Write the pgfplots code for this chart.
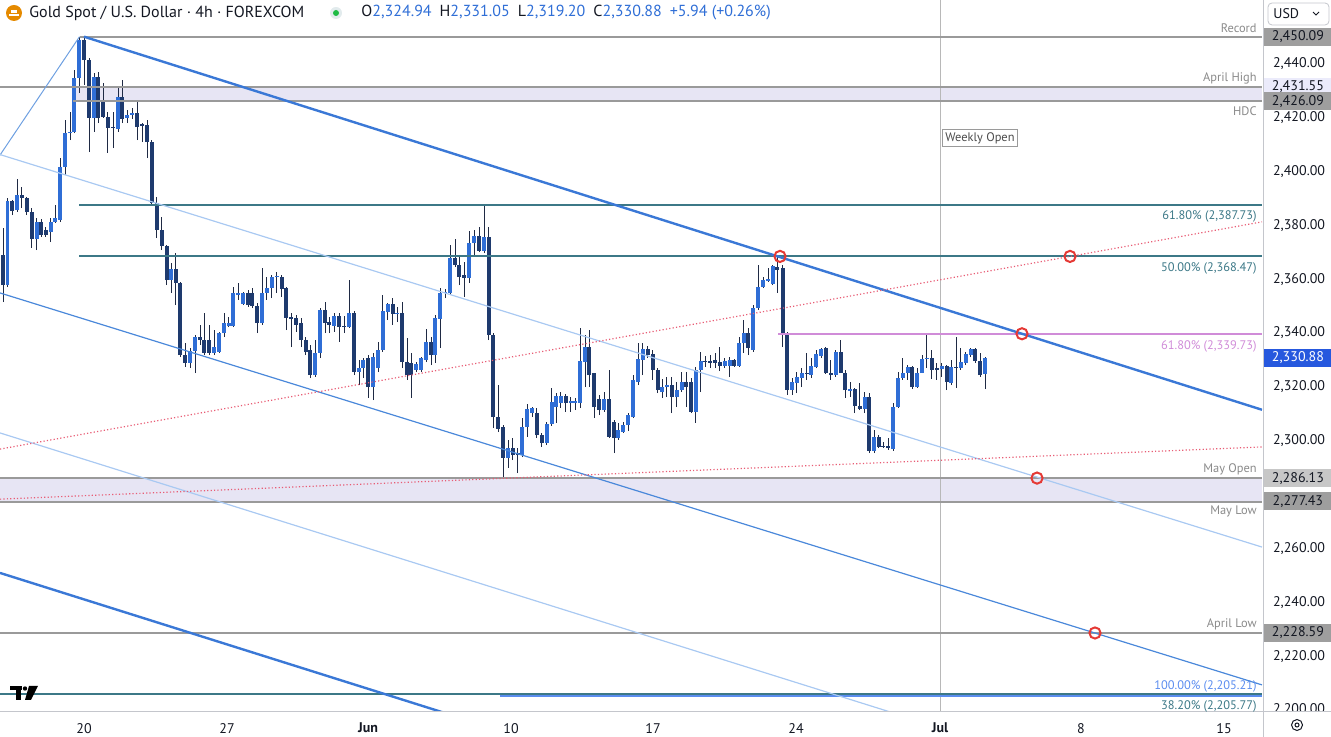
\documentclass[border=0pt]{standalone}
\usepackage{pgfplots}
\pgfplotsset{compat=1.18}
\usepackage{pgfplotstable}
\usepackage{fontspec}
\setmainfont{PT Sans}

\definecolor{upc}{HTML}{2F6ED6}
\definecolor{dnc}{HTML}{1E3A6E}
\definecolor{wick}{HTML}{1F2A44}
\definecolor{chan}{HTML}{3A78D6}
\definecolor{chanthin}{HTML}{4A88DA}
\definecolor{chanlight}{HTML}{A9C9F2}
\definecolor{teal}{HTML}{3C7887}
\definecolor{pinkfib}{HTML}{D08CD8}
\definecolor{lvl}{HTML}{9A9A9A}
\definecolor{lav}{HTML}{E7E5F4}
\definecolor{reddot}{HTML}{E85D75}
\definecolor{redc}{HTML}{E53935}
\definecolor{bluefib}{HTML}{5B8DEF}
\definecolor{tvtext}{HTML}{131722}
\definecolor{lbl}{HTML}{8A8A8A}
\definecolor{sep}{HTML}{C4C6CC}

% x: pixel column of the bar, o h l c: prices
\pgfplotstableread{
x o h l c
7.5 2357.8 2390.2 2357.1 2389.0
17.3 2385.7 2397.2 2385.0 2391.3
36.7 2374.9 2382.7 2370.8 2381.2
50.7 2377.5 2382.7 2373.8 2381.2
55.3 2381.2 2387.6 2380.9 2382.7
60.3 2382.0 2405.0 2381.2 2401.7
65.3 2401.7 2419.1 2398.7 2414.3
70.3 2414.3 2422.1 2411.7 2414.7
74.3 2414.7 2437.7 2414.3 2434.7
79.3 2434.7 2450.09 2429.2 2449.0
94.0 2419.9 2436.6 2414.7 2435.1
118.0 2415.8 2431.4 2414.7 2427.7
127.3 2419.9 2422.9 2418.0 2421.0
132.3 2421.0 2423.6 2419.5 2421.7
171.0 2359.7 2366.0 2354.9 2363.8
190.0 2328.9 2334.4 2327.0 2333.3
195.0 2333.3 2339.3 2325.1 2338.5
214.3 2332.6 2341.1 2331.8 2334.8
219.3 2333.0 2340.4 2332.6 2340.0
224.0 2340.0 2347.4 2338.5 2343.7
228.7 2342.6 2346.0 2342.2 2343.7
233.3 2342.6 2357.1 2342.2 2354.9
238.3 2354.1 2358.6 2352.3 2354.9
243.3 2350.8 2355.3 2350.4 2354.9
262.3 2343.7 2364.2 2343.0 2354.9
266.7 2354.9 2360.8 2352.3 2356.7
271.7 2356.7 2361.6 2353.0 2360.8
276.7 2360.8 2362.7 2354.9 2361.2
315.0 2324.4 2337.4 2323.7 2332.6
320.0 2332.6 2349.3 2330.7 2348.6
334.3 2342.6 2347.4 2340.4 2346.3
349.3 2342.2 2359.7 2341.9 2347.4
359.0 2325.5 2330.0 2320.7 2327.0
363.3 2327.0 2330.7 2323.3 2330.0
373.3 2319.9 2332.6 2315.1 2331.1
378.3 2327.0 2336.7 2325.5 2333.7
382.7 2333.7 2354.1 2333.0 2348.2
387.7 2347.8 2351.2 2344.8 2350.8
397.3 2347.1 2349.7 2344.1 2347.4
416.3 2326.3 2329.2 2325.5 2328.5
421.3 2326.3 2331.1 2325.5 2330.7
426.3 2330.0 2341.5 2329.2 2336.7
435.3 2331.8 2346.7 2328.9 2345.6
440.3 2345.2 2356.7 2334.4 2354.9
445.3 2354.9 2356.4 2353.0 2355.3
450.0 2354.9 2372.7 2354.1 2367.9
469.3 2360.4 2377.9 2358.6 2373.5
474.3 2373.5 2378.3 2369.0 2376.0
484.3 2370.5 2387.6 2369.7 2375.7
508.3 2293.6 2300.3 2289.9 2297.3
522.3 2294.7 2308.4 2293.9 2305.1
527.3 2305.1 2313.6 2301.4 2311.8
532.3 2310.3 2312.5 2308.8 2312.1
546.7 2299.1 2306.9 2298.4 2306.2
551.7 2306.2 2319.6 2305.5 2314.4
556.0 2312.5 2317.7 2306.6 2316.6
560.7 2314.0 2318.1 2312.1 2316.6
570.7 2314.0 2316.2 2310.7 2314.7
575.3 2314.0 2315.9 2311.4 2314.7
580.0 2314.0 2341.9 2312.1 2329.6
585.0 2329.2 2339.3 2319.9 2334.8
604.3 2311.4 2318.1 2310.7 2315.5
618.3 2301.0 2306.6 2300.3 2304.0
623.3 2303.2 2306.9 2302.9 2305.8
628.3 2305.8 2310.3 2303.6 2309.5
633.3 2308.8 2324.4 2308.4 2322.6
638.3 2321.8 2336.3 2320.7 2330.4
642.7 2330.0 2336.3 2324.4 2334.1
662.3 2318.1 2322.9 2315.9 2319.9
666.7 2319.9 2323.7 2316.2 2320.7
676.7 2316.2 2321.8 2312.5 2318.8
681.7 2318.8 2325.5 2318.1 2321.8
695.7 2310.7 2327.4 2306.6 2326.3
700.7 2326.3 2333.0 2318.1 2329.6
724.7 2327.8 2330.7 2327.0 2329.6
729.7 2327.8 2331.1 2323.7 2330.0
739.3 2327.8 2338.5 2327.4 2336.3
743.7 2336.3 2344.8 2332.6 2340.0
753.3 2333.7 2350.4 2333.0 2349.3
758.3 2349.3 2365.3 2348.6 2357.1
763.3 2357.1 2360.8 2356.7 2359.7
768.3 2359.3 2364.2 2359.0 2360.1
772.7 2358.2 2365.3 2357.8 2364.9
792.3 2318.8 2323.3 2317.0 2321.8
796.7 2321.4 2325.5 2317.7 2323.7
801.7 2323.3 2327.0 2319.9 2325.1
811.3 2324.4 2330.7 2323.3 2327.8
816.3 2327.4 2333.7 2327.0 2332.2
821.3 2331.5 2334.4 2330.7 2334.1
835.7 2324.4 2333.7 2323.7 2333.0
850.0 2318.5 2321.8 2316.2 2319.2
864.7 2311.8 2318.1 2310.3 2316.2
874.0 2296.2 2304.0 2295.4 2301.4
893.3 2296.9 2314.0 2296.2 2312.5
898.3 2312.5 2325.5 2312.1 2323.3
902.7 2323.3 2330.7 2322.6 2325.1
907.7 2325.1 2328.1 2322.6 2327.4
917.3 2319.9 2327.0 2319.6 2325.1
922.3 2325.1 2331.8 2325.1 2330.4
926.7 2330.4 2340.0 2327.0 2330.7
941.7 2326.6 2328.9 2323.7 2327.8
951.0 2321.4 2330.0 2320.7 2327.4
960.7 2327.0 2334.4 2326.3 2329.2
965.7 2328.9 2333.0 2328.1 2332.2
970.7 2331.8 2334.4 2331.1 2334.1
985.0 2324.94 2331.05 2319.20 2330.88
}\candUp

\pgfplotstableread{
x o h l c
3.0 2369.0 2379.0 2351.5 2357.8
12.3 2389.0 2389.4 2383.8 2385.3
21.7 2391.3 2394.3 2386.4 2390.2
26.7 2390.2 2390.5 2383.8 2385.0
31.7 2385.0 2386.4 2371.6 2374.9
41.3 2381.2 2382.4 2375.7 2376.4
45.7 2378.3 2379.4 2375.7 2376.4
84.0 2449.0 2449.9 2432.1 2441.4
89.0 2441.4 2442.2 2407.2 2419.9
98.3 2435.1 2437.0 2418.0 2419.9
103.3 2425.8 2432.9 2419.9 2420.3
107.7 2420.3 2422.1 2406.9 2416.2
113.3 2416.7 2422.1 2408.7 2416.3
122.3 2427.7 2434.0 2418.0 2419.5
137.3 2421.7 2426.6 2411.7 2416.5
142.3 2417.7 2418.0 2410.9 2416.9
147.3 2417.3 2419.1 2405.0 2410.9
151.7 2410.9 2411.7 2387.6 2388.3
156.7 2388.3 2390.5 2375.3 2378.3
161.7 2378.3 2383.1 2370.8 2372.3
166.7 2372.3 2372.7 2357.8 2359.7
175.7 2363.8 2369.7 2350.4 2358.6
180.3 2358.6 2359.0 2331.1 2331.8
185.3 2331.8 2336.3 2327.4 2328.9
200.0 2338.5 2343.0 2335.6 2337.4
204.3 2337.4 2347.4 2331.8 2332.6
209.3 2337.4 2343.0 2331.8 2332.6
248.0 2354.9 2356.0 2349.7 2350.4
252.3 2354.9 2356.7 2349.3 2350.0
257.3 2350.0 2351.2 2340.0 2343.7
281.7 2360.8 2361.6 2353.4 2356.4
286.0 2356.7 2357.1 2341.1 2345.6
291.0 2346.0 2347.4 2334.8 2345.2
296.0 2345.6 2346.7 2340.4 2343.0
301.0 2343.7 2345.6 2334.8 2337.4
305.7 2337.4 2338.5 2331.8 2333.0
310.0 2333.7 2335.6 2323.3 2324.4
325.0 2348.6 2351.5 2340.0 2343.7
329.3 2344.1 2346.0 2340.0 2343.0
339.3 2346.3 2347.4 2336.7 2342.2
344.0 2342.6 2346.3 2340.0 2342.2
354.3 2347.4 2348.2 2324.4 2325.5
368.3 2330.7 2331.8 2315.9 2319.9
392.7 2350.8 2353.0 2343.0 2347.1
402.3 2347.4 2351.5 2327.0 2329.2
407.3 2329.2 2338.2 2322.6 2324.4
411.3 2328.9 2332.6 2315.9 2324.4
431.3 2336.7 2338.5 2328.1 2331.8
455.0 2367.9 2374.9 2364.5 2365.3
459.3 2365.3 2368.3 2357.8 2360.8
464.0 2361.6 2366.4 2353.4 2360.4
479.3 2376.0 2379.4 2370.1 2370.5
488.7 2375.7 2379.4 2337.4 2339.3
493.3 2339.3 2340.0 2304.7 2308.8
498.3 2308.8 2320.7 2303.2 2304.4
503.3 2305.1 2305.8 2286.5 2293.6
512.7 2297.3 2301.0 2292.8 2294.7
517.7 2295.4 2297.3 2288.0 2294.7
536.7 2310.3 2312.1 2301.0 2302.1
541.7 2302.1 2302.9 2297.7 2299.1
565.7 2316.6 2317.3 2310.7 2314.0
589.3 2334.8 2341.1 2319.9 2324.4
594.3 2325.1 2325.1 2308.4 2312.5
599.3 2315.5 2317.0 2309.5 2311.4
609.3 2315.5 2326.3 2301.0 2301.4
614.0 2306.9 2307.7 2295.4 2301.0
647.7 2334.1 2335.2 2330.7 2331.8
652.7 2332.2 2333.7 2322.6 2326.3
657.7 2326.3 2327.0 2317.7 2318.8
671.7 2320.7 2323.7 2310.3 2316.2
686.0 2321.8 2325.5 2312.5 2319.9
691.3 2321.8 2323.3 2310.3 2310.7
705.3 2329.6 2331.5 2327.4 2329.2
710.3 2329.6 2331.8 2327.0 2328.9
715.0 2330.0 2332.6 2327.0 2328.9
719.7 2329.2 2334.8 2325.9 2327.8
734.0 2330.0 2330.4 2327.4 2327.8
748.3 2340.0 2341.9 2331.8 2334.4
777.3 2364.5 2368.2 2354.9 2363.4
782.7 2364.2 2365.3 2334.8 2340.0
787.3 2340.0 2340.4 2317.0 2318.8
806.7 2325.1 2332.6 2322.6 2324.8
825.7 2334.4 2334.8 2324.8 2325.1
830.7 2325.1 2330.0 2322.6 2324.4
840.7 2333.0 2337.4 2325.1 2325.1
845.3 2325.1 2326.3 2315.9 2318.8
854.7 2319.2 2319.6 2310.3 2312.9
859.7 2312.9 2321.4 2311.4 2311.8
869.3 2316.2 2317.7 2295.4 2296.2
878.7 2301.4 2302.1 2297.3 2297.7
883.3 2298.0 2299.5 2297.3 2297.7
888.3 2298.0 2301.0 2296.6 2297.3
912.3 2327.4 2327.8 2319.2 2319.9
931.7 2330.7 2333.7 2322.9 2326.3
936.7 2327.0 2328.9 2322.6 2326.3
946.7 2327.8 2328.1 2318.8 2321.8
956.0 2327.4 2338.5 2319.6 2327.0
975.3 2334.1 2334.4 2328.9 2329.6
980.0 2329.6 2332.6 2323.7 2324.4
}\candDn

\pgfplotsset{
  wicks/.style={forget plot, color=wick, line width=0.5pt,
    quiver={u=0, v=\thisrow{h}-\thisrow{l}}},
  bodies/.style={forget plot, color=#1, line width=1.9pt,
    quiver={u=0, v={max(abs(\thisrow{c}-\thisrow{o}),0.4)}}},
}

\begin{document}
\begin{tikzpicture}
\begin{axis}[
  scale only axis, width=631pt, height=356pt,
  xmin=0, xmax=1262, ymin=2199.24, ymax=2463.72,
  axis line style={draw=none},
  major tick length=0pt,
  xtick={84,227,368,511,653,796,940,1081,1224},
  xticklabels={20,27,\textbf{Jun},10,17,24,\textbf{Jul},8,15},
  xticklabel style={font=\fontsize{7}{8}\selectfont, text=tvtext, yshift=-2pt},
  ytick={2200,2220,2240,2260,2300,2320,2340,2360,2380,2400,2420,2440},
  yticklabel pos=right,
  yticklabel style={font=\fontsize{7}{8}\selectfont, text=tvtext, anchor=west, xshift=2pt,
    /pgf/number format/.cd, fixed, fixed zerofill, precision=2, 1000 sep={,}, assume math mode=true},
]
% zones
\addplot[fill=lav, draw=none] coordinates {(73,2426.09) (1262,2426.09) (1262,2431.55) (73,2431.55)};
\addplot[fill=lav, draw=none] coordinates {(0,2277.43) (1262,2277.43) (1262,2286.13) (0,2286.13)};
% weekly open
\addplot[color=lvl!70, line width=0.5pt] coordinates {(940,2199.24) (940,2463.72)};

% candles: wick from low to high, body from min(open,close)
\addplot[wicks] table[x=x, y=l] {\candUp};
\addplot[wicks] table[x=x, y=l] {\candDn};
\addplot[bodies=upc] table[x=x, y expr={min(\thisrow{o},\thisrow{c})}] {\candUp};
\addplot[bodies=dnc] table[x=x, y expr={min(\thisrow{o},\thisrow{c})}] {\candDn};

% horizontal levels
\addplot[color=lvl, line width=1pt] coordinates {(80,2450.09) (1262,2450.09)};
\addplot[color=lvl, line width=1pt] coordinates {(0,2431.55) (1262,2431.55)};
\addplot[color=lvl, line width=1pt] coordinates {(73,2426.09) (1262,2426.09)};
\addplot[color=lvl, line width=1pt] coordinates {(0,2286.13) (1262,2286.13)};
\addplot[color=lvl, line width=1pt] coordinates {(0,2277.43) (1262,2277.43)};
\addplot[color=lvl, line width=1pt] coordinates {(0,2228.59) (1262,2228.59)};
\addplot[color=teal, line width=1pt] coordinates {(79,2387.73) (1262,2387.73)};
\addplot[color=teal, line width=1pt] coordinates {(79,2368.47) (1262,2368.47)};
\addplot[color=pinkfib, line width=1pt] coordinates {(778,2339.73) (1262,2339.73)};
\addplot[color=bluefib, line width=1.3pt] coordinates {(500,2205.21) (1262,2205.21)};
\addplot[color=teal, line width=1pt] coordinates {(0,2205.77) (1262,2205.77)};

% channel lines
\addplot[color=chanthin!80, line width=0.5pt] coordinates {(0,2406.1) (79.5,2450.09)};
\addplot[color=chan, line width=1.2pt] coordinates {(84,2450.09) (1262,2311.5)};
\addplot[color=chanlight, line width=0.6pt] coordinates {(0,2406.3) (1262,2260.5)};
\addplot[color=chanthin, line width=0.6pt] coordinates {(0,2354.9) (1262,2209.3)};
\addplot[color=chanlight, line width=0.6pt] coordinates {(0,2302.9) (900,2198.1)};
\addplot[color=chan, line width=1.2pt] coordinates {(0,2250.9) (460,2197.1)};

% red dotted lines
\addplot[color=reddot, line width=0.6pt, dash pattern=on 0.6pt off 1.1pt] coordinates {(0,2296.9) (1262,2381.3)};
\addplot[color=reddot, line width=0.6pt, dash pattern=on 0.6pt off 1.1pt] coordinates {(0,2278.3) (1262,2297.7)};

% touch points
\addplot[only marks, mark=o, mark size=2.8pt, color=redc, line width=1pt]
  coordinates {(780,2368.47) (1070,2368.47) (1022,2339.73) (1037,2286.13) (1095,2228.59)};
\end{axis}

\begin{scope}[x=0.5pt, y=-0.5pt, shift={(0pt,356pt)}]
% frame lines
\draw[sep, line width=0.5pt] (0,712) -- (1331,712);
\draw[sep, line width=0.5pt] (1263,0) -- (1263,737);
\fill[white] (1263.5,712.5) rectangle (1331,737);
\draw[tvtext, line width=0.5pt] (1297,725) circle [radius=5.5];
\draw[tvtext, line width=0.5pt] (1297,725) circle [radius=2];

% drawing labels
\begin{scope}[every node/.style={anchor=east, inner sep=0pt, font=\fontsize{6.2}{7}\selectfont}]
\node[text=lbl] at (1257,28) {Record};
\node[text=lbl] at (1257,78) {April High};
\node[text=lbl] at (1257,111) {HDC};
\node[text=teal] at (1257,216) {61.80\% (2,387.73)};
\node[text=teal] at (1257,268) {50.00\% (2,368.47)};
\node[text=pinkfib] at (1257,346) {61.80\% (2,339.73)};
\node[text=lbl] at (1257,469) {May Open};
\node[text=lbl] at (1257,511) {May Low};
\node[text=lbl] at (1257,624) {April Low};
\node[text=bluefib] at (1257,686) {100.00\% (2,205.21)};
\node[text=teal] at (1257,706) {38.20\% (2,205.77)};
\end{scope}
\node[draw=lvl, fill=white, inner sep=1.5pt, text=black!70, font=\fontsize{6.2}{7}\selectfont] at (980,138) {Weekly Open};

% price scale boxes
\begin{scope}[every node/.style={anchor=west, inner sep=0pt, minimum width=34pt, minimum height=9pt, font=\fontsize{7}{8}\selectfont}]
\node[fill=black!38, text=tvtext] at (1263.5,36.7) {2,450.09};
\node[fill=black!22!blue!8, text=tvtext] at (1263.5,86.6) {2,431.55};
\node[fill=black!38, text=tvtext] at (1263.5,101.3) {2,426.09};
\node[fill=upc!80!blue, text=white] at (1263.5,357.6) {2,330.88};
\node[fill=black!22, text=tvtext] at (1263.5,478.1) {2,286.13};
\node[fill=black!38, text=tvtext] at (1263.5,501.5) {2,277.43};
\node[fill=black!38, text=tvtext] at (1263.5,633.0) {2,228.59};
\end{scope}

% header
\fill[orange!80!yellow!90!black] (14,13) circle [radius=8];
\fill[white] (9,14) rectangle (19,16);
\fill[white] (11,10) rectangle (17,13);
\node[anchor=west, inner sep=0pt, text=tvtext, font=\fontsize{8}{9}\selectfont] at (29,13) {Gold Spot / U.S. Dollar · 4h · FOREXCOM};
\fill[teal!15] (336,13) circle [radius=6];
\fill[green!50!teal] (336,13) circle [radius=3];
\node[anchor=west, inner sep=0pt, text=tvtext, font=\fontsize{8}{9}\selectfont] at (361,13)
  {O\textcolor{upc}{2,324.94}\enspace H\textcolor{upc}{2,331.05}\enspace L\textcolor{upc}{2,319.20}\enspace C\textcolor{upc}{2,330.88}\enspace \textcolor{upc}{+5.94 (+0.26\%)}};
\draw[sep, fill=white, rounded corners=2pt] (1268,3) rectangle (1329,25);
\node[anchor=west, inner sep=0pt, text=tvtext, font=\fontsize{7}{8}\selectfont] at (1273,14) {USD};
\draw[tvtext, line width=0.4pt] (1313,12) -- (1316,15) -- (1319,12);

% logo
\fill[black] (10,686) rectangle (22,690);
\fill[black] (15.5,686) rectangle (20.5,700);
\fill[black] (25,688.5) circle [radius=2.2];
\fill[black] (29,686) -- (38,686) -- (31,700) -- (25,700) -- cycle;

\pgfresetboundingbox
\useasboundingbox (0,0) rectangle (1331,737);
\end{scope}
\end{tikzpicture}
\end{document}
